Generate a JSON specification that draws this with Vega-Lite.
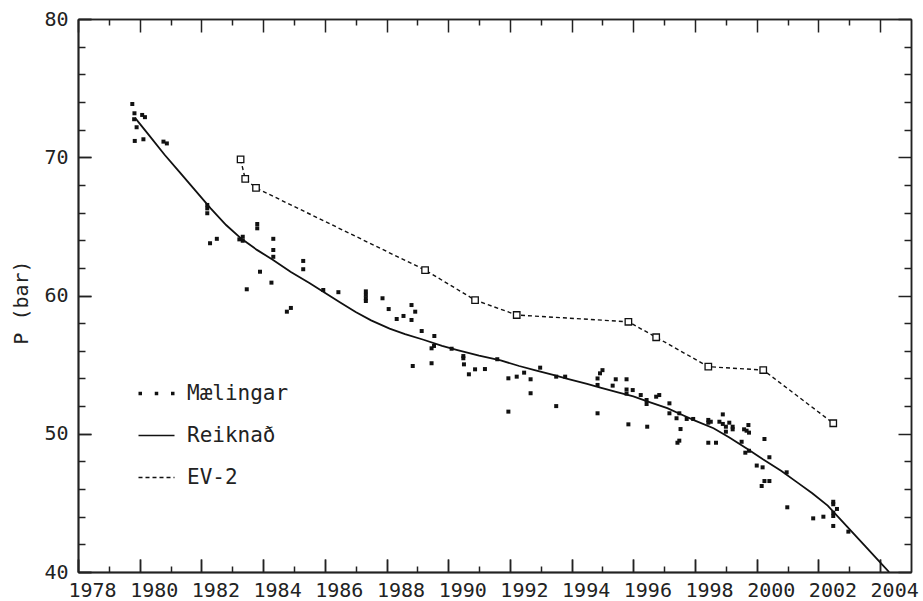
{
  "$schema": "https://vega.github.io/schema/vega-lite/v6.json",
  "width": 833,
  "height": 553,
  "autosize": {"type": "none"},
  "padding": {"left": 78, "top": 19, "right": 12, "bottom": 29},
  "config": {
    "view": {"stroke": null, "fill": null},
    "axis": {
      "zindex": 1,
      "grid": false,
      "domain": true,
      "domainColor": "#222",
      "domainWidth": 1.5,
      "tickColor": "#222",
      "tickWidth": 1.5,
      "labelFont": "DejaVu Sans Mono",
      "labelFontSize": 20,
      "labelColor": "#222",
      "titleFont": "DejaVu Sans Mono",
      "titleFontSize": 20,
      "titleFontWeight": "normal",
      "titleColor": "#222",
      "labelOverlap": false,
      "labelFlush": false
    }
  },
  "data": {
    "values": [
      {"series": "Mælingar", "year": 1979.76, "p": 73.85},
      {"series": "Mælingar", "year": 1979.83, "p": 73.18},
      {"series": "Mælingar", "year": 1980.08, "p": 73.06},
      {"series": "Mælingar", "year": 1980.17, "p": 72.9},
      {"series": "Mælingar", "year": 1979.82, "p": 72.75},
      {"series": "Mælingar", "year": 1979.9, "p": 72.17},
      {"series": "Mælingar", "year": 1979.84, "p": 71.18},
      {"series": "Mælingar", "year": 1980.12, "p": 71.3},
      {"series": "Mælingar", "year": 1980.77, "p": 71.13},
      {"series": "Mælingar", "year": 1980.88, "p": 71.0},
      {"series": "Mælingar", "year": 1982.19, "p": 66.55},
      {"series": "Mælingar", "year": 1982.19, "p": 66.3},
      {"series": "Mælingar", "year": 1982.19, "p": 65.95},
      {"series": "Mælingar", "year": 1982.28, "p": 63.78},
      {"series": "Mælingar", "year": 1982.5, "p": 64.1},
      {"series": "Mælingar", "year": 1983.23, "p": 64.06},
      {"series": "Mælingar", "year": 1983.34, "p": 64.25},
      {"series": "Mælingar", "year": 1983.34, "p": 63.96},
      {"series": "Mælingar", "year": 1983.81, "p": 65.17},
      {"series": "Mælingar", "year": 1983.81, "p": 64.86},
      {"series": "Mælingar", "year": 1983.47, "p": 60.45},
      {"series": "Mælingar", "year": 1983.9, "p": 61.72},
      {"series": "Mælingar", "year": 1984.27, "p": 60.93},
      {"series": "Mælingar", "year": 1984.33, "p": 64.1},
      {"series": "Mælingar", "year": 1984.33, "p": 63.29},
      {"series": "Mælingar", "year": 1984.33, "p": 62.8},
      {"series": "Mælingar", "year": 1984.77, "p": 58.83},
      {"series": "Mælingar", "year": 1984.9, "p": 59.1},
      {"series": "Mælingar", "year": 1985.3, "p": 62.5},
      {"series": "Mælingar", "year": 1985.3, "p": 61.9},
      {"series": "Mælingar", "year": 1985.95, "p": 60.4},
      {"series": "Mælingar", "year": 1986.44, "p": 60.24},
      {"series": "Mælingar", "year": 1987.33, "p": 60.3},
      {"series": "Mælingar", "year": 1987.33, "p": 60.05},
      {"series": "Mælingar", "year": 1987.33, "p": 59.8},
      {"series": "Mælingar", "year": 1987.33, "p": 59.6},
      {"series": "Mælingar", "year": 1987.87, "p": 59.8},
      {"series": "Mælingar", "year": 1988.07, "p": 59.02},
      {"series": "Mælingar", "year": 1988.33, "p": 58.3},
      {"series": "Mælingar", "year": 1988.55, "p": 58.52},
      {"series": "Mælingar", "year": 1988.81, "p": 59.31},
      {"series": "Mælingar", "year": 1988.93, "p": 58.83},
      {"series": "Mælingar", "year": 1988.81, "p": 58.23},
      {"series": "Mælingar", "year": 1989.14, "p": 57.43},
      {"series": "Mælingar", "year": 1989.55, "p": 57.07},
      {"series": "Mælingar", "year": 1989.46, "p": 56.18},
      {"series": "Mælingar", "year": 1989.54, "p": 56.35},
      {"series": "Mælingar", "year": 1988.85, "p": 54.9},
      {"series": "Mælingar", "year": 1989.46, "p": 55.1},
      {"series": "Mælingar", "year": 1990.11, "p": 56.15},
      {"series": "Mælingar", "year": 1990.49, "p": 55.62},
      {"series": "Mælingar", "year": 1990.49, "p": 55.46},
      {"series": "Mælingar", "year": 1990.51, "p": 55.02},
      {"series": "Mælingar", "year": 1990.67, "p": 54.3},
      {"series": "Mælingar", "year": 1990.87, "p": 54.66},
      {"series": "Mælingar", "year": 1991.19, "p": 54.68},
      {"series": "Mælingar", "year": 1991.59, "p": 55.39},
      {"series": "Mælingar", "year": 1991.95, "p": 54.01},
      {"series": "Mælingar", "year": 1991.95, "p": 51.6},
      {"series": "Mælingar", "year": 1992.22, "p": 54.13},
      {"series": "Mælingar", "year": 1992.46, "p": 54.42},
      {"series": "Mælingar", "year": 1992.67, "p": 53.94},
      {"series": "Mælingar", "year": 1992.67, "p": 52.93},
      {"series": "Mælingar", "year": 1992.98, "p": 54.78},
      {"series": "Mælingar", "year": 1993.5, "p": 52.0},
      {"series": "Mælingar", "year": 1993.5, "p": 54.13},
      {"series": "Mælingar", "year": 1993.79, "p": 54.13},
      {"series": "Mælingar", "year": 1994.84, "p": 51.48},
      {"series": "Mælingar", "year": 1994.84, "p": 53.53},
      {"series": "Mælingar", "year": 1994.84, "p": 54.0},
      {"series": "Mælingar", "year": 1994.92, "p": 54.37},
      {"series": "Mælingar", "year": 1995.0, "p": 54.6},
      {"series": "Mælingar", "year": 1995.33, "p": 53.48},
      {"series": "Mælingar", "year": 1995.43, "p": 53.94},
      {"series": "Mælingar", "year": 1995.78, "p": 53.94},
      {"series": "Mælingar", "year": 1995.78, "p": 53.2},
      {"series": "Mælingar", "year": 1995.78, "p": 52.9},
      {"series": "Mælingar", "year": 1995.84, "p": 50.68},
      {"series": "Mælingar", "year": 1995.98, "p": 53.16},
      {"series": "Mælingar", "year": 1996.24, "p": 52.8},
      {"series": "Mælingar", "year": 1996.43, "p": 52.44},
      {"series": "Mælingar", "year": 1996.43, "p": 52.15},
      {"series": "Mælingar", "year": 1996.45, "p": 50.51},
      {"series": "Mælingar", "year": 1996.74, "p": 52.68},
      {"series": "Mælingar", "year": 1996.84, "p": 52.8},
      {"series": "Mælingar", "year": 1997.17, "p": 52.2},
      {"series": "Mælingar", "year": 1997.17, "p": 51.48},
      {"series": "Mælingar", "year": 1997.4, "p": 51.12},
      {"series": "Mælingar", "year": 1997.49, "p": 51.48},
      {"series": "Mælingar", "year": 1997.53, "p": 50.34},
      {"series": "Mælingar", "year": 1997.43, "p": 49.35},
      {"series": "Mælingar", "year": 1997.49, "p": 49.5},
      {"series": "Mælingar", "year": 1997.73, "p": 51.07},
      {"series": "Mælingar", "year": 1997.94, "p": 51.07},
      {"series": "Mælingar", "year": 1998.43, "p": 51.0},
      {"series": "Mælingar", "year": 1998.43, "p": 50.8},
      {"series": "Mælingar", "year": 1998.51, "p": 50.87},
      {"series": "Mælingar", "year": 1998.9, "p": 51.4},
      {"series": "Mælingar", "year": 1998.43, "p": 49.35},
      {"series": "Mælingar", "year": 1998.68, "p": 49.35},
      {"series": "Mælingar", "year": 1998.79, "p": 50.87},
      {"series": "Mælingar", "year": 1998.9, "p": 50.71},
      {"series": "Mælingar", "year": 1999.0, "p": 50.51},
      {"series": "Mælingar", "year": 1999.0, "p": 50.15},
      {"series": "Mælingar", "year": 1999.11, "p": 50.8},
      {"series": "Mælingar", "year": 1999.22, "p": 50.51},
      {"series": "Mælingar", "year": 1999.22, "p": 50.32},
      {"series": "Mælingar", "year": 1999.59, "p": 50.32},
      {"series": "Mælingar", "year": 1999.67, "p": 50.22},
      {"series": "Mælingar", "year": 1999.73, "p": 50.63},
      {"series": "Mælingar", "year": 1999.75, "p": 50.08},
      {"series": "Mælingar", "year": 1999.51, "p": 49.42},
      {"series": "Mælingar", "year": 1999.63, "p": 48.63},
      {"series": "Mælingar", "year": 1999.75, "p": 48.77},
      {"series": "Mælingar", "year": 2000.25, "p": 49.62},
      {"series": "Mælingar", "year": 2000.0, "p": 47.7},
      {"series": "Mælingar", "year": 2000.19, "p": 47.57},
      {"series": "Mælingar", "year": 2000.25, "p": 46.58},
      {"series": "Mælingar", "year": 2000.41, "p": 46.58},
      {"series": "Mælingar", "year": 2000.16, "p": 46.22},
      {"series": "Mælingar", "year": 2000.41, "p": 48.3},
      {"series": "Mælingar", "year": 2000.97, "p": 47.21},
      {"series": "Mælingar", "year": 2000.99, "p": 44.68},
      {"series": "Mælingar", "year": 2001.83, "p": 43.88},
      {"series": "Mælingar", "year": 2002.16, "p": 44.0},
      {"series": "Mælingar", "year": 2002.48, "p": 45.08},
      {"series": "Mælingar", "year": 2002.48, "p": 44.9},
      {"series": "Mælingar", "year": 2002.6, "p": 44.56},
      {"series": "Mælingar", "year": 2002.48, "p": 44.29},
      {"series": "Mælingar", "year": 2002.48, "p": 44.05},
      {"series": "Mælingar", "year": 2002.48, "p": 43.33},
      {"series": "Mælingar", "year": 2002.97, "p": 42.92},
      {"series": "Reiknað", "year": 1979.85, "p": 72.85},
      {"series": "Reiknað", "year": 1980.3, "p": 71.6},
      {"series": "Reiknað", "year": 1980.8, "p": 70.2},
      {"series": "Reiknað", "year": 1981.3, "p": 68.9},
      {"series": "Reiknað", "year": 1981.8, "p": 67.6},
      {"series": "Reiknað", "year": 1982.3, "p": 66.3},
      {"series": "Reiknað", "year": 1982.8, "p": 65.1},
      {"series": "Reiknað", "year": 1983.3, "p": 64.1},
      {"series": "Reiknað", "year": 1983.8, "p": 63.3},
      {"series": "Reiknað", "year": 1984.3, "p": 62.6},
      {"series": "Reiknað", "year": 1984.9, "p": 61.7},
      {"series": "Reiknað", "year": 1985.5, "p": 60.9},
      {"series": "Reiknað", "year": 1986.0, "p": 60.2},
      {"series": "Reiknað", "year": 1986.5, "p": 59.5},
      {"series": "Reiknað", "year": 1987.0, "p": 58.8},
      {"series": "Reiknað", "year": 1987.5, "p": 58.2},
      {"series": "Reiknað", "year": 1988.1, "p": 57.6},
      {"series": "Reiknað", "year": 1988.6, "p": 57.2},
      {"series": "Reiknað", "year": 1989.2, "p": 56.8},
      {"series": "Reiknað", "year": 1989.8, "p": 56.35},
      {"series": "Reiknað", "year": 1990.3, "p": 56.05},
      {"series": "Reiknað", "year": 1991.0, "p": 55.65},
      {"series": "Reiknað", "year": 1991.7, "p": 55.3},
      {"series": "Reiknað", "year": 1992.3, "p": 54.9},
      {"series": "Reiknað", "year": 1992.8, "p": 54.6},
      {"series": "Reiknað", "year": 1993.4, "p": 54.25},
      {"series": "Reiknað", "year": 1993.9, "p": 53.95},
      {"series": "Reiknað", "year": 1994.5, "p": 53.6},
      {"series": "Reiknað", "year": 1994.9, "p": 53.35},
      {"series": "Reiknað", "year": 1995.5, "p": 53.0},
      {"series": "Reiknað", "year": 1996.0, "p": 52.7},
      {"series": "Reiknað", "year": 1996.5, "p": 52.3},
      {"series": "Reiknað", "year": 1997.1, "p": 51.85},
      {"series": "Reiknað", "year": 1997.5, "p": 51.45},
      {"series": "Reiknað", "year": 1998.0, "p": 50.95},
      {"series": "Reiknað", "year": 1998.6, "p": 50.4},
      {"series": "Reiknað", "year": 1999.1, "p": 49.75},
      {"series": "Reiknað", "year": 1999.7, "p": 48.9},
      {"series": "Reiknað", "year": 2000.2, "p": 48.15},
      {"series": "Reiknað", "year": 2000.8, "p": 47.3},
      {"series": "Reiknað", "year": 2001.3, "p": 46.5},
      {"series": "Reiknað", "year": 2001.8, "p": 45.7},
      {"series": "Reiknað", "year": 2002.3, "p": 44.8},
      {"series": "Reiknað", "year": 2002.9, "p": 43.35},
      {"series": "Reiknað", "year": 2003.5, "p": 41.9},
      {"series": "Reiknað", "year": 2004.0, "p": 40.7},
      {"series": "Reiknað", "year": 2004.29, "p": 40.0},
      {"series": "EV-2", "year": 1983.27, "p": 69.85},
      {"series": "EV-2", "year": 1983.42, "p": 68.43},
      {"series": "EV-2", "year": 1983.77, "p": 67.78},
      {"series": "EV-2", "year": 1989.25, "p": 61.84},
      {"series": "EV-2", "year": 1990.87, "p": 59.67},
      {"series": "EV-2", "year": 1992.22, "p": 58.59},
      {"series": "EV-2", "year": 1995.84, "p": 58.1},
      {"series": "EV-2", "year": 1996.74, "p": 56.98},
      {"series": "EV-2", "year": 1998.43, "p": 54.85},
      {"series": "EV-2", "year": 2000.21, "p": 54.61},
      {"series": "EV-2", "year": 2002.48, "p": 50.76}
    ]
  },
  "layer": [
    {
      "transform": [{"filter": "datum.series === 'Mælingar'"}],
      "mark": {"type": "square", "size": 16, "color": "#111", "opacity": 1},
      "encoding": {
        "x": {
          "field": "year", "type": "quantitative",
          "scale": {"domain": [1978, 2005], "nice": false, "zero": false},
          "axis": {
            "orient": "bottom",
            "title": null,
            "values": [1978, 1980, 1982, 1984, 1986, 1988, 1990, 1992, 1994, 1996, 1998, 2000, 2002, 2004],
            "format": "d",
            "tickSize": -13,
            "labelPadding": 21,
            "labelOffset": 14
          }
        },
        "y": {
          "field": "p", "type": "quantitative",
          "scale": {"domain": [40, 80], "nice": false, "zero": false},
          "axis": {
            "orient": "left",
            "title": "P (bar)",
            "values": [40, 50, 60, 70, 80],
            "format": "d",
            "tickSize": -13,
            "labelPadding": 23,
            "titleX": -57,
            "titleY": 283,
            "titleAngle": -90,
            "titleAlign": "center",
            "titleBaseline": "middle"
          }
        }
      }
    },
    {
      "transform": [{"filter": "datum.series === 'Reiknað'"}],
      "mark": {"type": "line", "color": "#111", "strokeWidth": 1.8, "clip": true},
      "encoding": {
        "x": {
          "field": "year", "type": "quantitative",
          "axis": {"orient": "top", "title": null, "labels": false,
            "values": [1978, 1980, 1982, 1984, 1986, 1988, 1990, 1992, 1994, 1996, 1998, 2000, 2002, 2004], "tickSize": -13}
        },
        "y": {
          "field": "p", "type": "quantitative",
          "axis": {"orient": "right", "title": null, "labels": false, "values": [40, 50, 60, 70, 80], "tickSize": -13}
        }
      }
    },
    {
      "transform": [{"filter": "datum.series === 'EV-2'"}],
      "mark": {"type": "line", "color": "#111", "strokeWidth": 1.4, "strokeDash": [4, 3]},
      "encoding": {
        "x": {
          "field": "year", "type": "quantitative",
          "axis": {"orient": "bottom", "title": null, "labels": false,
            "values": [1979, 1981, 1983, 1985, 1987, 1989, 1991, 1993, 1995, 1997, 1999, 2001, 2003], "tickSize": -6}
        },
        "y": {
          "field": "p", "type": "quantitative",
          "axis": {"orient": "left", "title": null, "labels": false,
            "values": [42, 44, 46, 48, 52, 54, 56, 58, 62, 64, 66, 68, 72, 74, 76, 78], "tickSize": -7}
        }
      }
    },
    {
      "transform": [{"filter": "datum.series === 'EV-2'"}],
      "mark": {"type": "square", "size": 42, "filled": true, "fill": "white", "stroke": "#111", "strokeWidth": 1.3, "opacity": 1},
      "encoding": {
        "x": {
          "field": "year", "type": "quantitative",
          "axis": {"orient": "top", "title": null, "labels": false,
            "values": [1979, 1981, 1983, 1985, 1987, 1989, 1991, 1993, 1995, 1997, 1999, 2001, 2003], "tickSize": -6}
        },
        "y": {
          "field": "p", "type": "quantitative",
          "axis": {"orient": "right", "title": null, "labels": false,
            "values": [42, 44, 46, 48, 52, 54, 56, 58, 62, 64, 66, 68, 72, 74, 76, 78], "tickSize": -7}
        }
      }
    },
    {
      "mark": {"type": "line", "opacity": 0, "color": "#111"},
      "encoding": {
        "x": {
          "field": "year", "type": "quantitative",
          "axis": {"orient": "bottom", "title": null, "labels": false,
            "values": [1978, 1980, 1982, 1984, 1986, 1988, 1990, 1992, 1994, 1996, 1998, 2000, 2002, 2004], "tickSize": -13}
        },
        "y": {
          "field": "p", "type": "quantitative",
          "axis": {"orient": "left", "title": null, "labels": false, "values": [40, 50, 60, 70, 80], "tickSize": -13}
        },
        "strokeDash": {
          "field": "series", "type": "nominal",
          "scale": {
            "domain": ["Mælingar", "Reiknað", "EV-2"],
            "range": [[3.5, 12.75], [1, 0], [4, 3]]
          },
          "legend": {
            "title": null,
            "orient": "none",
            "legendX": 68,
            "legendY": 364,
            "padding": 0,
            "symbolType": "stroke",
            "symbolSize": 1296,
            "symbolStrokeWidth": 1.5,
            "symbolStrokeColor": "#111",
            "symbolOpacity": 1,
            "labelFont": "DejaVu Sans Mono",
            "labelFontSize": 21,
            "labelColor": "#222",
            "labelOffset": 20,
            "rowPadding": 20,
            "encode": {
              "symbols": {
                "update": {
                  "strokeWidth": {"signal": "datum.index === 0 ? 3.5 : 1.5"},
                  "stroke": {"value": "#111"},
                  "opacity": {"value": 1}
                }
              }
            }
          }
        }
      }
    }
  ],
  "resolve": {"axis": {"x": "independent", "y": "independent"}}
}
